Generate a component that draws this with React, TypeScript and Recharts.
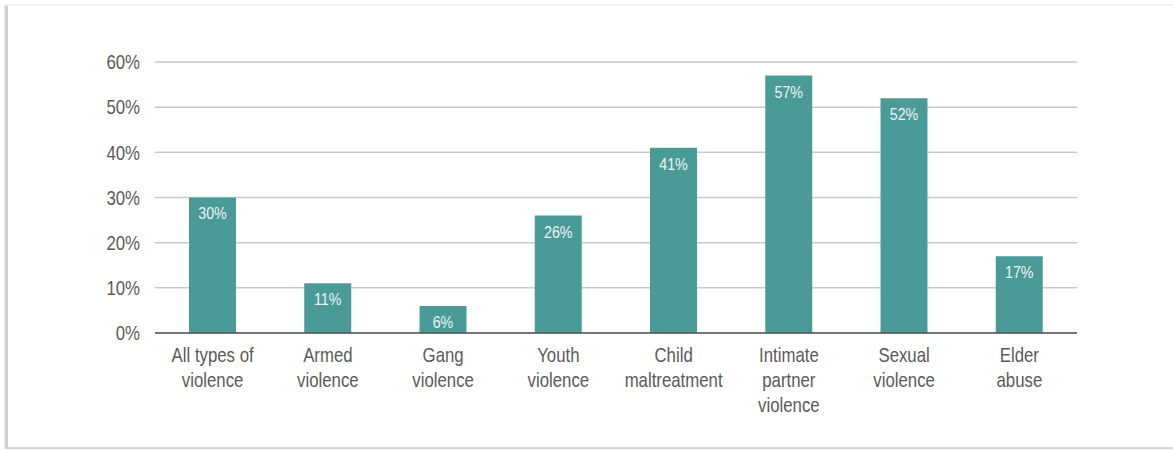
import React from "react";
import { BarChart, Bar, XAxis, YAxis, CartesianGrid, LabelList } from "recharts";

const categories = [
  "All types of\nviolence",
  "Armed\nviolence",
  "Gang\nviolence",
  "Youth\nviolence",
  "Child\nmaltreatment",
  "Intimate\npartner\nviolence",
  "Sexual\nviolence",
  "Elder\nabuse",
];
const values = [30, 11, 6, 26, 41, 57, 52, 17];
const yTicks = [0, 10, 20, 30, 40, 50, 60];

const data = categories.map((c, i) => ({ name: c, value: values[i] }));

const FONT = '"Liberation Sans", Arial, sans-serif';
const TEXT = "#5a5a5a";
const BAR = "#4a9b98";
const SX = 0.84;

const squeeze = (x: number) => `translate(${x},0) scale(${SX},1) translate(${-x},0)`;

const XTick = (props: any) => {
  const { x, y, payload } = props;
  const lines = String(payload.value).split("\n");
  return (
    <text
      x={x}
      y={y}
      textAnchor="middle"
      fill={TEXT}
      fontFamily={FONT}
      fontSize={20}
      transform={squeeze(x)}
    >
      {lines.map((l, i) => (
        <tspan key={i} x={x} dy={i === 0 ? 21 : 25}>
          {l}
        </tspan>
      ))}
    </text>
  );
};

const YTick = (props: any) => {
  const { x, y, payload } = props;
  return (
    <text
      x={x}
      y={y}
      dy="0.36em"
      textAnchor="end"
      fill={TEXT}
      fontFamily={FONT}
      fontSize={20}
      transform={squeeze(x)}
    >
      {`${payload.value}%`}
    </text>
  );
};

const BarLabel = (props: any) => {
  const { x, y, width, value } = props;
  const cx = Number(x) + Number(width) / 2;
  return (
    <text
      x={cx}
      y={Number(y) + 22}
      textAnchor="middle"
      fill="#eaf4f3"
      fontFamily={FONT}
      fontSize={17}
      transform={squeeze(cx)}
    >
      {`${value}%`}
    </text>
  );
};

export default function App() {
  return (
    <div style={{ position: "absolute", left: 0, top: 0, width: 1173, height: 450, background: "#fff" }}>
      <div
        style={{
          position: "absolute",
          left: 5,
          top: 5,
          width: 1168,
          height: 441,
          borderLeft: "3px solid #cfcfcf",
          borderTop: "1px solid #ececec",
          borderBottom: "2px solid #d6d6d6",
          boxShadow: "-1px 0 2px #e6e6e6",
        }}
      />
      <div style={{ position: "absolute", left: 0, top: 0 }}>
        <BarChart
          width={1173}
          height={450}
          data={data}
          margin={{ top: 62, right: 96, bottom: 57, left: 0 }}
        >
          <CartesianGrid vertical={false} stroke="#c9c9c9" strokeWidth={1.5} />
          <YAxis
            width={155}
            domain={[0, 60]}
            ticks={yTicks}
            axisLine={false}
            tickLine={false}
            tickMargin={9}
            tick={<YTick />}
            interval={0}
          />
          <XAxis
            dataKey="name"
            height={60}
            axisLine={{ stroke: "#555", strokeWidth: 1.5 }}
            tickLine={false}
            tick={<XTick />}
            interval={0}
          />
          <Bar dataKey="value" fill={BAR} barSize={47} isAnimationActive={false}>
            <LabelList dataKey="value" content={<BarLabel />} />
          </Bar>
        </BarChart>
      </div>
    </div>
  );
}
